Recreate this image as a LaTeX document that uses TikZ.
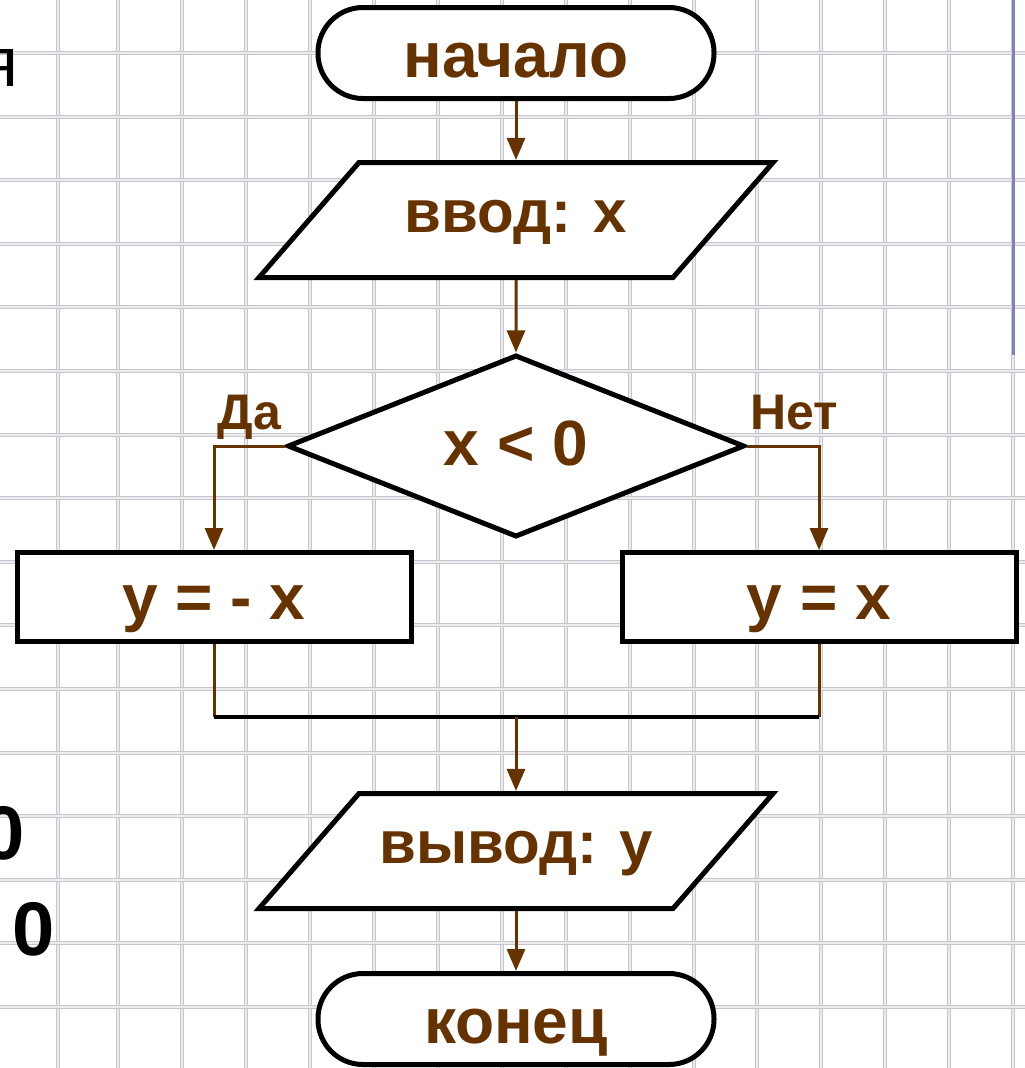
\documentclass[tikz,border=0pt]{standalone}
\usepackage{fontspec}
\setmainfont{Liberation Sans}
\usepackage{xcolor}
\usetikzlibrary{arrows,arrows.meta,shapes}

\begin{document}
\begin{tikzpicture}[x=1pt,y=-1pt,node distance=2cm]
    \definecolor{mybrown}{RGB}{102,51,0}
    \definecolor{mygrid}{RGB}{198,198,204}
    \definecolor{mygridc}{RGB}{236,236,240}
    \definecolor{myblue}{RGB}{122,128,192}

    \tikzstyle{base}=[draw,line width=5pt,fill=white,text=mybrown,inner sep=0pt,
        font=\fontsize{64}{70}\selectfont\bfseries]  % общий вид блоков
    \tikzstyle{term}=[base,rectangle,rounded corners=45pt,minimum width=396pt,
        minimum height=91pt,text height=48pt,text depth=0pt]  % начало / конец
    \tikzstyle{io}=[base,trapezium,trapezium left angle=49,trapezium right angle=131,
        trapezium stretches body=true,minimum width=514pt,inner xsep=0pt,inner ysep=35.5pt,
        text height=34pt,text depth=10pt,font=\fontsize{60}{66}\selectfont\bfseries]  % ввод / вывод
    \tikzstyle{test}=[base,diamond,minimum width=457pt,minimum height=182pt,
        text height=38pt,text depth=0pt]  % условие
    \tikzstyle{format}=[base,rectangle,minimum width=394pt,minimum height=89pt,
        text height=44pt,text depth=0pt]  % действие
    \tikzstyle{lbl}=[text=mybrown,inner sep=0pt,text depth=0pt,
        font=\fontsize{50}{56}\selectfont\bfseries]
    \tikzstyle{line}=[draw=mybrown,line width=3pt,-{Triangle[length=22pt,width=18pt]}]

    \useasboundingbox (0,0) rectangle (1025,1068);
    \clip (0,0) rectangle (1025,1068);

    % сетка
    \foreach \x in {58,118,182,246,310,374,438,502,566,630,694,757,821,885,949,1013}{
        \draw[mygrid,line width=4pt] (\x,0) -- (\x,1068);
        \draw[mygridc,line width=1.2pt] (\x,0) -- (\x,1068);}
    \foreach \y in {53,117,180,244,307,371,435,498,562,625,689,753,816,880,943,1007}{
        \draw[mygrid,line width=4pt] (0,\y) -- (1025,\y);
        \draw[mygridc,line width=1.2pt] (0,\y) -- (1025,\y);}
    \draw[myblue,line width=3pt] (1013,0) -- (1013,355);

    % обрезанный текст слева
    \node[anchor=base east,inner sep=0pt,font=\fontsize{70}{80}\selectfont] (cut1) at (19,86) {я};
    \node[anchor=base east,inner sep=0pt,font=\fontsize{76}{80}\selectfont\bfseries] (cut2) at (25,859) {0};
    \node[anchor=base west,inner sep=0pt,font=\fontsize{76}{80}\selectfont\bfseries] (cut3) at (12,955) {0};

    % блоки
    \node[term] (init) at (516,53) {начало};
    \node[io,below of=init,node distance=167pt] (in) {ввод: x};
    \node[test,below of=in,node distance=226pt] (cond) {x < 0};
    \node[format] (yneg) at (214,597) {y = - x};
    \node[format] (ypos) at (819,597) {y = x};
    \node[io,below of=cond,node distance=405pt] (out) {вывод: y};
    \node[term,below of=out,node distance=168pt] (end) {конец};
    \coordinate (join) at (516,717);

    % линии
    \draw[line] (init) -- (in);
    \draw[line] (in) -- (cond);
    \draw[line] (cond.west) -| node[lbl,pos=0.25,above=15pt]{Да} (yneg.north);
    \draw[line] (cond.east) -| node[lbl,pos=0.33,above=15pt]{Нет} (ypos.north);
    \draw[mybrown,line width=3pt] (yneg) -- (yneg |- join);
    \draw[mybrown,line width=3pt] (ypos) -- (ypos |- join);
    \draw[line width=3.5pt] (yneg |- join) -- (ypos |- join);
    \draw[line] (join) -- (out);
    \draw[line] (out) -- (end);
\end{tikzpicture}
\end{document}
